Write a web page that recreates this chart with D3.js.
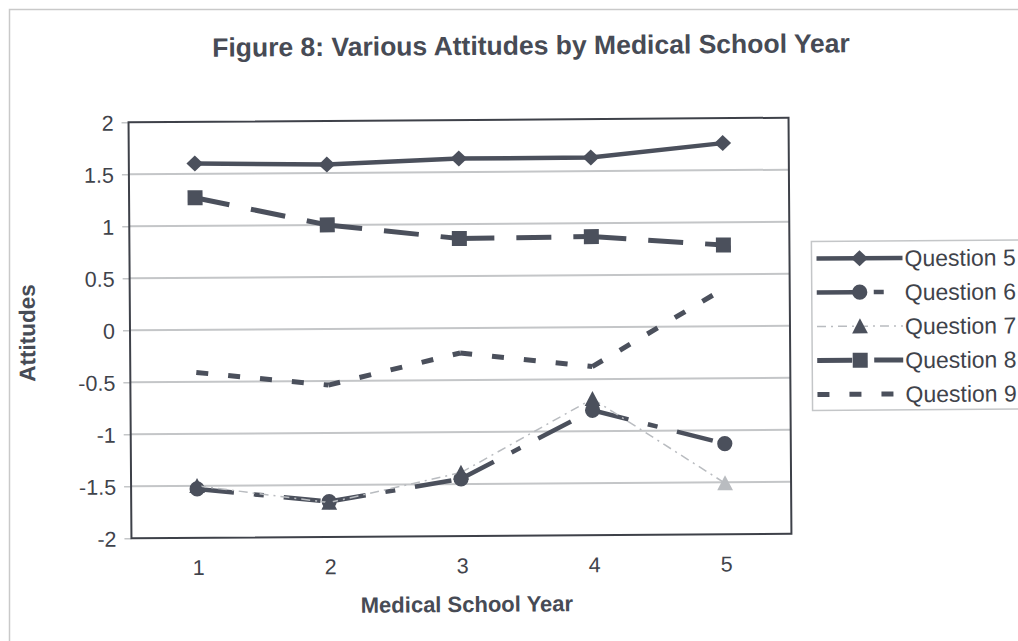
<!DOCTYPE html>
<html>
<head>
<meta charset="utf-8">
<script src="https://cdn.jsdelivr.net/npm/d3@7"></script>
<style>
  html, body { margin: 0; padding: 0; background: #fff; }
  svg { display: block; font-family: "Liberation Sans", Arial, sans-serif; }
</style>
</head>
<body>
<svg id="chart" width="1018" height="641"></svg>
<script>
// Mean attitude score per medical school year, one array per survey question
const years = [1, 2, 3, 4, 5];
const q5 = [1.60, 1.58, 1.63, 1.63, 1.76];
const q6 = [-1.53, -1.66, -1.45, -0.80, -1.13];
const q7 = [-1.50, -1.67, -1.39, -0.69, -1.51];
const q8 = [1.27, 1.00, 0.86, 0.87, 0.78];
const q9 = [-0.41, -0.54, -0.24, -0.38, 0.36];
const seriesNames = ["Question 5", "Question 6", "Question 7", "Question 8", "Question 9"];
const yTickValues = [2, 1.5, 1, 0.5, 0, -0.5, -1, -1.5, -2];

const dark = "#4b505c";
const light = "#b9bcc0";
const textColor = "#3f434b";

const series = [
  { name: seriesNames[0], values: q5, width: 4.5, color: dark, dash: null, marker: "diamond" },
  { name: seriesNames[1], values: q6, width: 4.5, color: dark, dash: "37,20,10,20", marker: "circle" },
  { name: seriesNames[2], values: q7, width: 1.5, color: light, dash: "9,5,2,5", marker: "triangle" },
  { name: seriesNames[3], values: q8, width: 5, color: dark, dash: "35,22", marker: "square" },
  { name: seriesNames[4], values: q9, width: 5, color: dark, dash: "12,20", marker: null }
];

const svg = d3.select("#chart");

// page frame
svg.append("path")
  .attr("d", "M9.5,641 L9.5,9.5 L1018,9.5")
  .attr("fill", "none").attr("stroke", "#c9c9c9").attr("stroke-width", 1.5);

const root = svg.append("g").attr("transform", "rotate(-0.4, 460, 330)");

const plot = { left: 130, right: 790, top: 120, bottom: 536 };

const x = d3.scaleBand().domain(years).range([plot.left, plot.right]);
const y = d3.scaleLinear().domain([-2, 2]).range([plot.bottom, plot.top]);
const cx = d => x(d) + x.bandwidth() / 2;

// gridlines
root.append("g").selectAll("line").data(yTickValues.filter(v => v > -2 && v < 2)).join("line")
  .attr("x1", plot.left).attr("x2", plot.right)
  .attr("y1", d => y(d)).attr("y2", d => y(d))
  .attr("stroke", "#c4c6c8").attr("stroke-width", 2);

// y axis
const yAxis = root.append("g")
  .attr("transform", `translate(${plot.left},0)`)
  .call(d3.axisLeft(y).tickValues(yTickValues).tickFormat(d => String(d)).tickSize(7).tickPadding(8));
yAxis.select(".domain").remove();
yAxis.selectAll(".tick line").attr("stroke", "#c4c6c8").attr("stroke-width", 1.5);
yAxis.selectAll(".tick text").attr("fill", textColor).attr("font-size", 21.5).attr("dy", "0.36em");

// x axis
const xAxis = root.append("g")
  .attr("transform", `translate(0,${plot.bottom})`)
  .call(d3.axisBottom(x).tickSize(0).tickPadding(22));
xAxis.select(".domain").remove();
xAxis.selectAll(".tick text").attr("fill", textColor).attr("font-size", 21.5).attr("dx", 1);

// plot frame
root.append("rect")
  .attr("x", plot.left).attr("y", plot.top)
  .attr("width", plot.right - plot.left).attr("height", plot.bottom - plot.top)
  .attr("fill", "none").attr("stroke", "#3e4149").attr("stroke-width", 2);

// marker shapes
function markerPath(type, s) {
  if (type === "diamond") return `M0,${-s}L${s * 1.05},0L0,${s}L${-s * 1.05},0Z`;
  if (type === "square") return `M${-s},${-s}H${s}V${s}H${-s}Z`;
  if (type === "triangle") return `M0,${-s * 1.05}L${s * 1.05},${s * 0.95}L${-s * 1.05},${s * 0.95}Z`;
  return null;
}
function drawMarker(g, type, px, py, fill) {
  if (!type) return;
  if (type === "circle") {
    g.append("circle").attr("cx", px).attr("cy", py).attr("r", 7.6).attr("fill", fill);
  } else {
    const s = type === "diamond" ? 8 : 7.5;
    g.append("path").attr("d", markerPath(type, s))
      .attr("transform", `translate(${px},${py})`).attr("fill", fill);
  }
}

const line = d3.line().x(d => cx(d.year)).y(d => y(d.value));

series.forEach((s, si) => {
  const g = root.append("g").attr("class", "series");
  const pts = years.map((yr, i) => ({ year: yr, value: s.values[i] }));
  if (!s.dash) {
    g.append("path").datum(pts).attr("d", line)
      .attr("fill", "none").attr("stroke", s.color).attr("stroke-width", s.width)
      .attr("stroke-linejoin", "round");
  } else {
    // each segment restarts its dash pattern
    d3.pairs(pts).forEach(pair => {
      g.append("path").datum(pair).attr("d", line)
        .attr("fill", "none").attr("stroke", s.color).attr("stroke-width", s.width)
        .attr("stroke-dasharray", s.dash);
    });
  }
  pts.forEach((p, i) => {
    let fill = dark;
    if (s.marker === "triangle" && i === pts.length - 1) fill = light;
    drawMarker(g, s.marker, cx(p.year), y(p.value), fill);
  });
});

// legend
const legend = root.append("g");
legend.append("rect")
  .attr("x", 812).attr("y", 244).attr("width", 230).attr("height", 169)
  .attr("fill", "#fff").attr("stroke", "#c4c6c8").attr("stroke-width", 1.5);
series.forEach((s, i) => {
  const ly = 261 + i * 34;
  const row = legend.append("g");
  row.append("line").attr("x1", 817).attr("x2", 903).attr("y1", ly).attr("y2", ly)
    .attr("stroke", s.color).attr("stroke-width", s.width)
    .attr("stroke-dasharray", s.dash);
  drawMarker(row, s.marker, 860, ly, dark);
  row.append("text").attr("x", 905).attr("y", ly).attr("dy", "0.36em")
    .attr("font-size", 23).attr("fill", textColor).text(s.name);
});

// titles
root.append("text").attr("x", 533).attr("y", 55).attr("text-anchor", "middle")
  .attr("font-size", 26.5).attr("font-weight", "bold").attr("fill", "#474b55")
  .text("Figure 8: Various Attitudes by Medical School Year");
root.append("text").attr("x", 465).attr("y", 612).attr("text-anchor", "middle")
  .attr("font-size", 22).attr("font-weight", "bold").attr("fill", "#474b55")
  .text("Medical School Year");
root.append("text").attr("transform", "translate(35,330) rotate(-90)")
  .attr("text-anchor", "middle")
  .attr("font-size", 22.5).attr("font-weight", "bold").attr("fill", "#474b55")
  .text("Attitudes");
</script>
</body>
</html>
